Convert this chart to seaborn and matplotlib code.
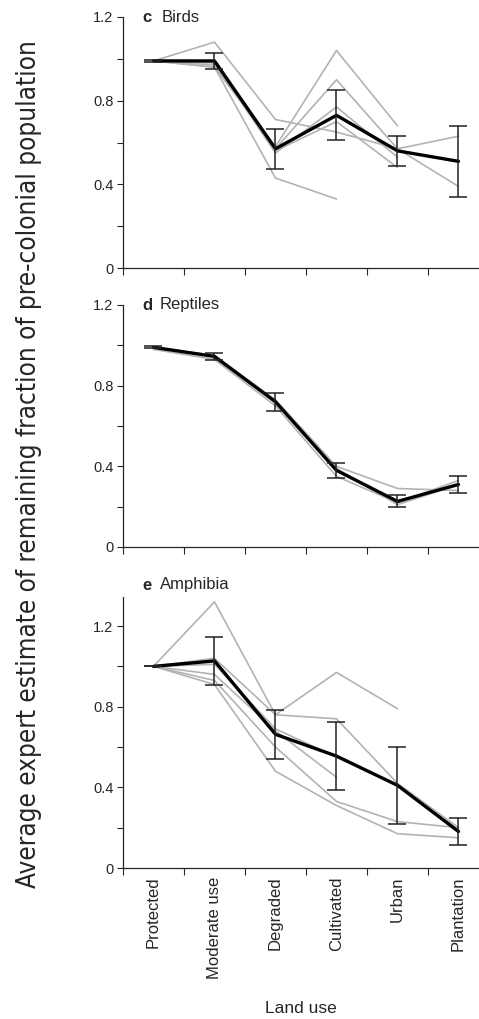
import numpy as np
import pandas as pd
import matplotlib
matplotlib.use("Agg")
import matplotlib.pyplot as plt
import seaborn as sns

land_use = ["Protected", "Moderate use", "Degraded", "Cultivated", "Urban", "Plantation"]

# Individual expert estimates (NaN where an expert gave no estimate)
birds_experts = [
    [0.99, 1.08, 0.71, 0.65, 0.57, 0.63],
    [0.99, 0.96, 0.43, 0.33, np.nan, np.nan],
    [0.99, 0.96, 0.58, 1.04, 0.68, np.nan],
    [0.99, 0.97, 0.57, 0.90, 0.57, 0.39],
    [0.99, 0.98, 0.55, 0.77, 0.53, np.nan],
    [0.99, 0.99, 0.56, 0.70, 0.48, np.nan],
]
birds_mean = [0.99, 0.99, 0.57, 0.73, 0.56, 0.51]
birds_err = [0.005, 0.04, 0.095, 0.12, 0.073, 0.17]

reptiles_experts = [
    [0.99, 0.95, 0.73, 0.40, 0.29, 0.28],
    [0.98, 0.93, 0.70, 0.35, 0.22, 0.33],
    [0.99, 0.95, 0.72, 0.39, 0.21, 0.31],
]
reptiles_mean = [0.99, 0.945, 0.72, 0.38, 0.226, 0.31]
reptiles_err = [0.005, 0.017, 0.045, 0.037, 0.03, 0.04]

amphibia_experts = [
    [1.00, 1.32, 0.76, 0.97, 0.79, np.nan],
    [1.00, 1.04, 0.76, 0.74, 0.42, 0.20],
    [1.00, 1.01, 0.69, 0.55, 0.41, 0.19],
    [1.00, 0.96, 0.68, 0.45, np.nan, np.nan],
    [1.00, 0.93, 0.60, 0.33, 0.23, 0.20],
    [1.00, 0.91, 0.48, 0.31, 0.17, 0.15],
]
amphibia_mean = [1.00, 1.027, 0.663, 0.555, 0.41, 0.181]
amphibia_err = [0.0, 0.12, 0.12, 0.17, 0.19, 0.066]

panel_letters = ["c", "d", "e"]
panel_names = ["Birds", "Reptiles", "Amphibia"]
y_ticks = [0, 0.2, 0.4, 0.6, 0.8, 1.0, 1.2]
y_tick_labels = ["0", "", "0.4", "", "0.8", "", "1.2"]

sns.set_style("ticks")
plt.rcParams["font.family"] = ["Liberation Sans", "DejaVu Sans"]

W, H = 479, 1019
fig = plt.figure(figsize=(W / 100, H / 100), dpi=100)


def px_box(left, top, right, bottom):
    return [left / W, 1 - bottom / H, (right - left) / W, (bottom - top) / H]


boxes = [px_box(123, 17, 478, 268), px_box(123, 305, 478, 547), px_box(123, 597, 478, 868)]
ytops = [1.2, 1.2, 1.344]
title_y = [17, 305, 585]
title_name_x = [162, 160, 160]

panels = [
    (birds_experts, birds_mean, birds_err),
    (reptiles_experts, reptiles_mean, reptiles_err),
    (amphibia_experts, amphibia_mean, amphibia_err),
]

pos = np.arange(len(land_use))

for i, (experts, mean, err) in enumerate(panels):
    ax = fig.add_axes(boxes[i])
    rows = []
    for k, vals in enumerate(experts):
        for p, v in zip(pos, vals):
            if not np.isnan(v):
                rows.append({"expert": k, "pos": p, "value": v})
    df = pd.DataFrame(rows)
    sns.lineplot(data=df, x="pos", y="value", units="expert", estimator=None,
                 color="#b3b3b3", linewidth=1.2, ax=ax, legend=False)
    mdf = pd.DataFrame({"pos": pos, "value": mean})
    sns.lineplot(data=mdf, x="pos", y="value", color="black", linewidth=2.4, ax=ax)
    ax.errorbar(pos, mean, yerr=err, fmt="none", ecolor="#222222",
                elinewidth=1.1, capsize=6.5, capthick=1.1, zorder=5)

    ax.set_xlim(-0.5, 5.32)
    ax.set_ylim(0, ytops[i])
    ax.set_yticks(y_ticks)
    ax.set_yticklabels(y_tick_labels, fontsize=10.5)
    ax.tick_params(axis="y", length=4, width=0.8, pad=3)
    ax.spines["left"].set_bounds(0, ytops[i])
    for s in ["top", "right"]:
        ax.spines[s].set_visible(False)
    for s in ["left", "bottom"]:
        ax.spines[s].set_linewidth(0.9)
    ax.set_xticks(np.arange(-0.5, 5, 1.0), minor=True)
    ax.tick_params(axis="x", which="minor", length=5, width=0.8)
    ax.set_xticks(pos)
    ax.tick_params(axis="x", which="major", length=0, pad=6)
    if i == 2:
        ax.set_xticklabels(land_use, rotation=90, fontsize=12, va="top")
        ax.set_xlabel("Land use", fontsize=12.5, labelpad=16)
    else:
        ax.set_xticklabels([])
        ax.set_xlabel("")
    ax.set_ylabel("")

    fig.text(142 / W, 1 - title_y[i] / H, panel_letters[i], fontsize=12,
             fontweight="bold", va="center", ha="left")
    fig.text(title_name_x[i] / W, 1 - title_y[i] / H, panel_names[i], fontsize=12,
             va="center", ha="left")

fig.text(29 / W, 1 - 464 / H,
         "Average expert estimate of remaining fraction of pre-colonial population",
         rotation=90, va="center", ha="center", fontsize=18.7,
         family="DejaVu Sans", fontstretch="condensed")

fig.savefig("out.png", dpi=100)
